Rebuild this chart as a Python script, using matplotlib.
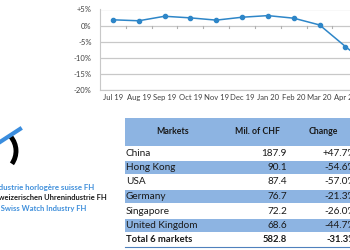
import matplotlib.pyplot as plt
from matplotlib.patches import Rectangle, Arc
from matplotlib.lines import Line2D

plt.rcParams['font.family'] = ['Lato', 'DejaVu Sans']

# monthly change (%)
months = ['Jul 19', 'Aug 19', 'Sep 19', 'Oct 19', 'Nov 19', 'Dec 19',
          'Jan 20', 'Feb 20', 'Mar 20', 'Apr 20', 'May 20', 'Jun 20']
change = [1.8, 1.5, 2.9, 2.4, 1.7, 2.6, 3.1, 2.3, 0.2, -6.5, -13.0]
yticks = [5, 0, -5, -10, -15, -20]
ytick_labels = ['+5%', '0%', '-5%', '-10%', '-15%', '-20%']

# table
markets = ['China', 'Hong Kong', 'USA', 'Germany', 'Singapore', 'United Kingdom']
mil_chf = ['187.9', '90.1', '87.4', '76.7', '72.2', '68.6']
market_change = ['+47.7%', '-54.6%', '-57.0%', '-21.3%', '-26.0%', '-44.7%']
total = ['Total 6 markets', '582.8', '-31.3%']
headers = ['Markets', 'Mil. of CHF', 'Change']

# logo text lines
logo_lines = ["Fédération de l'industrie horlogère suisse FH",
              'Verband der Schweizerischen Uhrenindustrie FH',
              'Federation of the Swiss Watch Industry FH']

W, H = 350, 250
fig = plt.figure(figsize=(3.5, 2.5), dpi=100)


def fx(px):
    return px / W


def fy(py):
    return 1 - py / H


# ---- line chart ----
ax = fig.add_axes([fx(100), fy(90), fx(310), fy(9.5) - fy(90)])
ax.plot(range(len(change)), change, color='#2E86C8', lw=1.1,
        marker='o', ms=3, clip_on=False)
ax.set_xlim(-0.5, len(months) - 0.5)
ax.set_ylim(-20, 5)
ax.set_yticks(yticks)
ax.set_yticklabels(ytick_labels)
ax.set_xticks(range(len(months)))
ax.set_xticklabels(months)
ax.tick_params(length=0, labelsize=5.5, colors='#404040')
ax.tick_params(axis='y', pad=6)
ax.tick_params(axis='x', pad=3)
ax.grid(axis='y', color='#C8C8C8', lw=0.9)
ax.set_axisbelow(True)
for s in ['top', 'right']:
    ax.spines[s].set_visible(False)
ax.spines['left'].set_color('#C8C8C8')
ax.spines['bottom'].set_color('#C8C8C8')
# small category ticks on the 0% axis
for i in range(len(months)):
    ax.plot([i + 0.5, i + 0.5], [0, -0.6], color='#B0B0B0', lw=0.8)

# ---- logo ----
fig.add_artist(Line2D([fx(0), fx(20)], [fy(142), fy(129)], color='#3A8DDE', lw=3))
fig.add_artist(Arc((fx(-6), fy(151)), fx(44), (fy(0) - fy(44)), theta1=-45, theta2=50,
                   color='black', lw=3.5, transform=fig.transFigure))
logo_x = [94, 107, 86]
logo_y = [187.5, 198, 208.5]
logo_c = ['#3F8FDB', '#1A1A1A', '#3F8FDB']
logo_fs = [5.65, 5.4, 5.5]
for t, x, y, c, s in zip(logo_lines, logo_x, logo_y, logo_c, logo_fs):
    fig.text(fx(x), fy(y), t, ha='right', va='center', fontsize=s,
             color=c, fontweight='bold')

# ---- table ----
blue = '#8DB4E2'
fig.add_artist(Rectangle((fx(125), fy(146)), fx(240), fy(118) - fy(146),
                         color=blue, transform=fig.transFigure, lw=0))
hx = [173, 257, 323]
for t, x in zip(headers, hx):
    fig.text(fx(x), fy(132), t, ha='center', va='center', fontsize=6.3,
             fontweight='bold', color='#1A1A1A')

row_y = [153, 167.5, 182, 196.5, 211, 225.5]
for i, (m, v, c) in enumerate(zip(markets, mil_chf, market_change)):
    y = row_y[i]
    if i % 2 == 1:
        fig.add_artist(Rectangle((fx(125), fy(y + 6.6)), fx(240), fy(y - 6.6) - fy(y + 6.6),
                                 color=blue, transform=fig.transFigure, lw=0))
    fig.text(fx(126), fy(y), m, ha='left', va='center', fontsize=7.2, color='#1A1A1A')
    fig.text(fx(287), fy(y), v, ha='right', va='center', fontsize=7.2, color='#1A1A1A')
    fig.text(fx(356), fy(y), c, ha='right', va='center', fontsize=7.2, color='#1A1A1A')

ty = 239.5
fig.text(fx(126), fy(ty), total[0], ha='left', va='center', fontsize=6.8,
         fontweight='bold', color='#1A1A1A')
fig.text(fx(287), fy(ty), total[1], ha='right', va='center', fontsize=6.8,
         fontweight='bold', color='#1A1A1A')
fig.text(fx(356), fy(ty), total[2], ha='right', va='center', fontsize=6.8,
         fontweight='bold', color='#1A1A1A')
fig.add_artist(Line2D([fx(125), fx(350)], [fy(246.5), fy(246.5)], color='#4F81BD', lw=0.8))

fig.savefig('out.png', dpi=100)
